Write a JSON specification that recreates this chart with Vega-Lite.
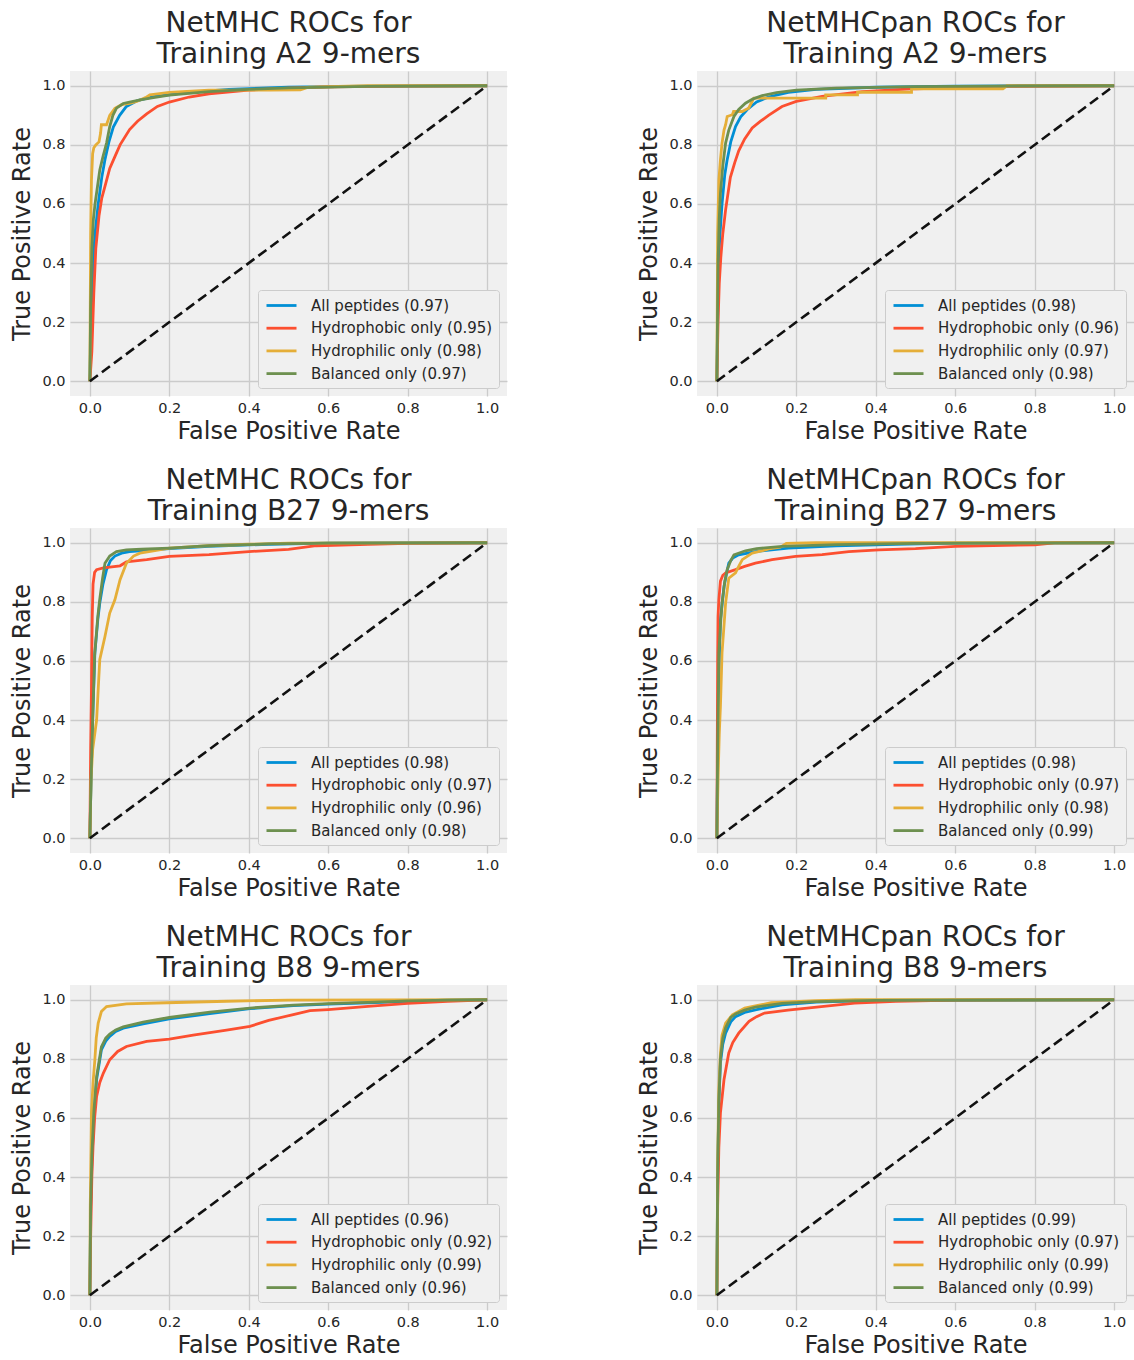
{
"$schema": "https://vega.github.io/schema/vega-lite/v6.json",
"background": "white",
"padding": {"left": 10, "top": 10, "right": 0, "bottom": 0},
"config": {
  "font": "DejaVu Sans",
  "view": {"fill": "#f0f0f0", "stroke": null},
  "axis": {"domain": false, "ticks": false, "gridColor": "#cbcbcb", "gridWidth": 1.3, "labelFontSize": 14.5, "labelColor": "#262626", "titleFontSize": 24, "titleFontWeight": "normal", "titleColor": "#262626", "labelPadding": 5},
  "axisX": {"titlePadding": 5},
  "axisY": {"titlePadding": 7},
  "title": {"fontSize": 28, "fontWeight": "normal", "color": "#262626", "lineHeight": 31, "offset": 2, "anchor": "middle"},
  "legend": {"orient": "bottom-right", "offset": 8, "fillColor": "#f0f0f0", "strokeColor": "#cccccc", "cornerRadius": 3, "padding": 6, "labelFontSize": 15, "labelColor": "#262626", "labelLimit": 300, "symbolType": "M-1.875,0H1.875", "symbolSize": 256, "symbolStrokeWidth": 2.8, "symbolOffset": 8, "labelOffset": 20, "rowPadding": 4.7}
},
"datasets": {
"diag": [{"x": 0, "y": 0}, {"x": 1, "y": 1}],
"roc": [
{"p":"a","s":"All peptides (0.97)","x":0,"y":0},{"p":"a","s":"All peptides (0.97)","x":0.003,"y":0.2},{"p":"a","s":"All peptides (0.97)","x":0.008,"y":0.4},{"p":"a","s":"All peptides (0.97)","x":0.013,"y":0.5},{"p":"a","s":"All peptides (0.97)","x":0.021,"y":0.6},{"p":"a","s":"All peptides (0.97)","x":0.03,"y":0.69},{"p":"a","s":"All peptides (0.97)","x":0.038,"y":0.75},{"p":"a","s":"All peptides (0.97)","x":0.048,"y":0.81},{"p":"a","s":"All peptides (0.97)","x":0.059,"y":0.86},{"p":"a","s":"All peptides (0.97)","x":0.075,"y":0.9},{"p":"a","s":"All peptides (0.97)","x":0.092,"y":0.93},{"p":"a","s":"All peptides (0.97)","x":0.12,"y":0.95},{"p":"a","s":"All peptides (0.97)","x":0.16,"y":0.963},{"p":"a","s":"All peptides (0.97)","x":0.25,"y":0.978},{"p":"a","s":"All peptides (0.97)","x":0.35,"y":0.988},{"p":"a","s":"All peptides (0.97)","x":0.5,"y":0.995},{"p":"a","s":"All peptides (0.97)","x":0.7,"y":0.999},{"p":"a","s":"All peptides (0.97)","x":1,"y":1},
{"p":"a","s":"Hydrophobic only (0.95)","x":0,"y":0},{"p":"a","s":"Hydrophobic only (0.95)","x":0.005,"y":0.1},{"p":"a","s":"Hydrophobic only (0.95)","x":0.01,"y":0.3},{"p":"a","s":"Hydrophobic only (0.95)","x":0.015,"y":0.45},{"p":"a","s":"Hydrophobic only (0.95)","x":0.023,"y":0.56},{"p":"a","s":"Hydrophobic only (0.95)","x":0.03,"y":0.62},{"p":"a","s":"Hydrophobic only (0.95)","x":0.04,"y":0.67},{"p":"a","s":"Hydrophobic only (0.95)","x":0.05,"y":0.72},{"p":"a","s":"Hydrophobic only (0.95)","x":0.063,"y":0.76},{"p":"a","s":"Hydrophobic only (0.95)","x":0.076,"y":0.8},{"p":"a","s":"Hydrophobic only (0.95)","x":0.1,"y":0.852},{"p":"a","s":"Hydrophobic only (0.95)","x":0.12,"y":0.88},{"p":"a","s":"Hydrophobic only (0.95)","x":0.143,"y":0.905},{"p":"a","s":"Hydrophobic only (0.95)","x":0.17,"y":0.93},{"p":"a","s":"Hydrophobic only (0.95)","x":0.2,"y":0.945},{"p":"a","s":"Hydrophobic only (0.95)","x":0.25,"y":0.962},{"p":"a","s":"Hydrophobic only (0.95)","x":0.3,"y":0.973},{"p":"a","s":"Hydrophobic only (0.95)","x":0.4,"y":0.985},{"p":"a","s":"Hydrophobic only (0.95)","x":0.5,"y":0.992},{"p":"a","s":"Hydrophobic only (0.95)","x":0.6,"y":0.996},{"p":"a","s":"Hydrophobic only (0.95)","x":0.8,"y":0.999},{"p":"a","s":"Hydrophobic only (0.95)","x":1,"y":1},
{"p":"a","s":"Hydrophilic only (0.98)","x":0,"y":0},{"p":"a","s":"Hydrophilic only (0.98)","x":0.002,"y":0.5},{"p":"a","s":"Hydrophilic only (0.98)","x":0.004,"y":0.68},{"p":"a","s":"Hydrophilic only (0.98)","x":0.007,"y":0.77},{"p":"a","s":"Hydrophilic only (0.98)","x":0.01,"y":0.79},{"p":"a","s":"Hydrophilic only (0.98)","x":0.015,"y":0.8},{"p":"a","s":"Hydrophilic only (0.98)","x":0.023,"y":0.81},{"p":"a","s":"Hydrophilic only (0.98)","x":0.027,"y":0.84},{"p":"a","s":"Hydrophilic only (0.98)","x":0.029,"y":0.868},{"p":"a","s":"Hydrophilic only (0.98)","x":0.042,"y":0.868},{"p":"a","s":"Hydrophilic only (0.98)","x":0.05,"y":0.9},{"p":"a","s":"Hydrophilic only (0.98)","x":0.063,"y":0.924},{"p":"a","s":"Hydrophilic only (0.98)","x":0.08,"y":0.936},{"p":"a","s":"Hydrophilic only (0.98)","x":0.1,"y":0.94},{"p":"a","s":"Hydrophilic only (0.98)","x":0.118,"y":0.947},{"p":"a","s":"Hydrophilic only (0.98)","x":0.14,"y":0.96},{"p":"a","s":"Hydrophilic only (0.98)","x":0.151,"y":0.969},{"p":"a","s":"Hydrophilic only (0.98)","x":0.2,"y":0.978},{"p":"a","s":"Hydrophilic only (0.98)","x":0.3,"y":0.985},{"p":"a","s":"Hydrophilic only (0.98)","x":0.45,"y":0.985},{"p":"a","s":"Hydrophilic only (0.98)","x":0.53,"y":0.986},{"p":"a","s":"Hydrophilic only (0.98)","x":0.55,"y":0.995},{"p":"a","s":"Hydrophilic only (0.98)","x":0.7,"y":1},{"p":"a","s":"Hydrophilic only (0.98)","x":1,"y":1},
{"p":"a","s":"Balanced only (0.97)","x":0,"y":0},{"p":"a","s":"Balanced only (0.97)","x":0.002,"y":0.25},{"p":"a","s":"Balanced only (0.97)","x":0.005,"y":0.45},{"p":"a","s":"Balanced only (0.97)","x":0.009,"y":0.55},{"p":"a","s":"Balanced only (0.97)","x":0.013,"y":0.6},{"p":"a","s":"Balanced only (0.97)","x":0.025,"y":0.715},{"p":"a","s":"Balanced only (0.97)","x":0.033,"y":0.76},{"p":"a","s":"Balanced only (0.97)","x":0.042,"y":0.806},{"p":"a","s":"Balanced only (0.97)","x":0.05,"y":0.862},{"p":"a","s":"Balanced only (0.97)","x":0.058,"y":0.9},{"p":"a","s":"Balanced only (0.97)","x":0.067,"y":0.924},{"p":"a","s":"Balanced only (0.97)","x":0.084,"y":0.94},{"p":"a","s":"Balanced only (0.97)","x":0.1,"y":0.945},{"p":"a","s":"Balanced only (0.97)","x":0.13,"y":0.953},{"p":"a","s":"Balanced only (0.97)","x":0.16,"y":0.96},{"p":"a","s":"Balanced only (0.97)","x":0.2,"y":0.968},{"p":"a","s":"Balanced only (0.97)","x":0.3,"y":0.98},{"p":"a","s":"Balanced only (0.97)","x":0.4,"y":0.988},{"p":"a","s":"Balanced only (0.97)","x":0.5,"y":0.993},{"p":"a","s":"Balanced only (0.97)","x":0.7,"y":0.998},{"p":"a","s":"Balanced only (0.97)","x":1,"y":1},

{"p":"b","s":"All peptides (0.98)","x":0,"y":0},{"p":"b","s":"All peptides (0.98)","x":0.004,"y":0.4},{"p":"b","s":"All peptides (0.98)","x":0.008,"y":0.5},{"p":"b","s":"All peptides (0.98)","x":0.013,"y":0.6},{"p":"b","s":"All peptides (0.98)","x":0.02,"y":0.7},{"p":"b","s":"All peptides (0.98)","x":0.026,"y":0.75},{"p":"b","s":"All peptides (0.98)","x":0.035,"y":0.81},{"p":"b","s":"All peptides (0.98)","x":0.047,"y":0.862},{"p":"b","s":"All peptides (0.98)","x":0.06,"y":0.895},{"p":"b","s":"All peptides (0.98)","x":0.076,"y":0.919},{"p":"b","s":"All peptides (0.98)","x":0.1,"y":0.945},{"p":"b","s":"All peptides (0.98)","x":0.13,"y":0.962},{"p":"b","s":"All peptides (0.98)","x":0.18,"y":0.978},{"p":"b","s":"All peptides (0.98)","x":0.25,"y":0.988},{"p":"b","s":"All peptides (0.98)","x":0.4,"y":0.995},{"p":"b","s":"All peptides (0.98)","x":0.6,"y":0.999},{"p":"b","s":"All peptides (0.98)","x":1,"y":1},
{"p":"b","s":"Hydrophobic only (0.96)","x":0,"y":0},{"p":"b","s":"Hydrophobic only (0.96)","x":0.003,"y":0.2},{"p":"b","s":"Hydrophobic only (0.96)","x":0.006,"y":0.33},{"p":"b","s":"Hydrophobic only (0.96)","x":0.01,"y":0.42},{"p":"b","s":"Hydrophobic only (0.96)","x":0.015,"y":0.5},{"p":"b","s":"Hydrophobic only (0.96)","x":0.022,"y":0.58},{"p":"b","s":"Hydrophobic only (0.96)","x":0.034,"y":0.69},{"p":"b","s":"Hydrophobic only (0.96)","x":0.045,"y":0.74},{"p":"b","s":"Hydrophobic only (0.96)","x":0.055,"y":0.78},{"p":"b","s":"Hydrophobic only (0.96)","x":0.07,"y":0.82},{"p":"b","s":"Hydrophobic only (0.96)","x":0.089,"y":0.857},{"p":"b","s":"Hydrophobic only (0.96)","x":0.11,"y":0.88},{"p":"b","s":"Hydrophobic only (0.96)","x":0.13,"y":0.9},{"p":"b","s":"Hydrophobic only (0.96)","x":0.164,"y":0.93},{"p":"b","s":"Hydrophobic only (0.96)","x":0.2,"y":0.947},{"p":"b","s":"Hydrophobic only (0.96)","x":0.265,"y":0.964},{"p":"b","s":"Hydrophobic only (0.96)","x":0.366,"y":0.98},{"p":"b","s":"Hydrophobic only (0.96)","x":0.5,"y":0.99},{"p":"b","s":"Hydrophobic only (0.96)","x":0.7,"y":0.998},{"p":"b","s":"Hydrophobic only (0.96)","x":1,"y":1},
{"p":"b","s":"Hydrophilic only (0.97)","x":0,"y":0},{"p":"b","s":"Hydrophilic only (0.97)","x":0.002,"y":0.5},{"p":"b","s":"Hydrophilic only (0.97)","x":0.005,"y":0.68},{"p":"b","s":"Hydrophilic only (0.97)","x":0.009,"y":0.75},{"p":"b","s":"Hydrophilic only (0.97)","x":0.013,"y":0.806},{"p":"b","s":"Hydrophilic only (0.97)","x":0.018,"y":0.85},{"p":"b","s":"Hydrophilic only (0.97)","x":0.022,"y":0.868},{"p":"b","s":"Hydrophilic only (0.97)","x":0.026,"y":0.896},{"p":"b","s":"Hydrophilic only (0.97)","x":0.039,"y":0.902},{"p":"b","s":"Hydrophilic only (0.97)","x":0.042,"y":0.913},{"p":"b","s":"Hydrophilic only (0.97)","x":0.064,"y":0.913},{"p":"b","s":"Hydrophilic only (0.97)","x":0.072,"y":0.919},{"p":"b","s":"Hydrophilic only (0.97)","x":0.08,"y":0.924},{"p":"b","s":"Hydrophilic only (0.97)","x":0.086,"y":0.94},{"p":"b","s":"Hydrophilic only (0.97)","x":0.093,"y":0.958},{"p":"b","s":"Hydrophilic only (0.97)","x":0.274,"y":0.958},{"p":"b","s":"Hydrophilic only (0.97)","x":0.274,"y":0.969},{"p":"b","s":"Hydrophilic only (0.97)","x":0.354,"y":0.969},{"p":"b","s":"Hydrophilic only (0.97)","x":0.354,"y":0.978},{"p":"b","s":"Hydrophilic only (0.97)","x":0.49,"y":0.978},{"p":"b","s":"Hydrophilic only (0.97)","x":0.49,"y":0.99},{"p":"b","s":"Hydrophilic only (0.97)","x":0.72,"y":0.99},{"p":"b","s":"Hydrophilic only (0.97)","x":0.73,"y":1},{"p":"b","s":"Hydrophilic only (0.97)","x":1,"y":1},
{"p":"b","s":"Balanced only (0.98)","x":0,"y":0},{"p":"b","s":"Balanced only (0.98)","x":0.003,"y":0.4},{"p":"b","s":"Balanced only (0.98)","x":0.006,"y":0.55},{"p":"b","s":"Balanced only (0.98)","x":0.009,"y":0.636},{"p":"b","s":"Balanced only (0.98)","x":0.015,"y":0.73},{"p":"b","s":"Balanced only (0.98)","x":0.022,"y":0.806},{"p":"b","s":"Balanced only (0.98)","x":0.03,"y":0.85},{"p":"b","s":"Balanced only (0.98)","x":0.043,"y":0.896},{"p":"b","s":"Balanced only (0.98)","x":0.055,"y":0.92},{"p":"b","s":"Balanced only (0.98)","x":0.072,"y":0.941},{"p":"b","s":"Balanced only (0.98)","x":0.09,"y":0.955},{"p":"b","s":"Balanced only (0.98)","x":0.114,"y":0.967},{"p":"b","s":"Balanced only (0.98)","x":0.15,"y":0.977},{"p":"b","s":"Balanced only (0.98)","x":0.2,"y":0.985},{"p":"b","s":"Balanced only (0.98)","x":0.3,"y":0.992},{"p":"b","s":"Balanced only (0.98)","x":0.5,"y":0.997},{"p":"b","s":"Balanced only (0.98)","x":0.7,"y":0.999},{"p":"b","s":"Balanced only (0.98)","x":1,"y":1},

{"p":"c","s":"All peptides (0.98)","x":0,"y":0},{"p":"c","s":"All peptides (0.98)","x":0.003,"y":0.2},{"p":"c","s":"All peptides (0.98)","x":0.007,"y":0.4},{"p":"c","s":"All peptides (0.98)","x":0.0126,"y":0.627},{"p":"c","s":"All peptides (0.98)","x":0.02,"y":0.74},{"p":"c","s":"All peptides (0.98)","x":0.025,"y":0.796},{"p":"c","s":"All peptides (0.98)","x":0.033,"y":0.86},{"p":"c","s":"All peptides (0.98)","x":0.042,"y":0.909},{"p":"c","s":"All peptides (0.98)","x":0.052,"y":0.94},{"p":"c","s":"All peptides (0.98)","x":0.063,"y":0.955},{"p":"c","s":"All peptides (0.98)","x":0.08,"y":0.965},{"p":"c","s":"All peptides (0.98)","x":0.1,"y":0.97},{"p":"c","s":"All peptides (0.98)","x":0.126,"y":0.973},{"p":"c","s":"All peptides (0.98)","x":0.2,"y":0.98},{"p":"c","s":"All peptides (0.98)","x":0.3,"y":0.988},{"p":"c","s":"All peptides (0.98)","x":0.45,"y":0.995},{"p":"c","s":"All peptides (0.98)","x":0.6,"y":0.999},{"p":"c","s":"All peptides (0.98)","x":1,"y":1},
{"p":"c","s":"Hydrophobic only (0.97)","x":0,"y":0},{"p":"c","s":"Hydrophobic only (0.97)","x":0.002,"y":0.3},{"p":"c","s":"Hydrophobic only (0.97)","x":0.004,"y":0.5},{"p":"c","s":"Hydrophobic only (0.97)","x":0.006,"y":0.75},{"p":"c","s":"Hydrophobic only (0.97)","x":0.008,"y":0.86},{"p":"c","s":"Hydrophobic only (0.97)","x":0.012,"y":0.9},{"p":"c","s":"Hydrophobic only (0.97)","x":0.017,"y":0.909},{"p":"c","s":"Hydrophobic only (0.97)","x":0.034,"y":0.915},{"p":"c","s":"Hydrophobic only (0.97)","x":0.076,"y":0.922},{"p":"c","s":"Hydrophobic only (0.97)","x":0.092,"y":0.935},{"p":"c","s":"Hydrophobic only (0.97)","x":0.143,"y":0.943},{"p":"c","s":"Hydrophobic only (0.97)","x":0.2,"y":0.954},{"p":"c","s":"Hydrophobic only (0.97)","x":0.3,"y":0.96},{"p":"c","s":"Hydrophobic only (0.97)","x":0.4,"y":0.97},{"p":"c","s":"Hydrophobic only (0.97)","x":0.5,"y":0.978},{"p":"c","s":"Hydrophobic only (0.97)","x":0.57,"y":0.99},{"p":"c","s":"Hydrophobic only (0.97)","x":0.7,"y":0.995},{"p":"c","s":"Hydrophobic only (0.97)","x":0.8,"y":0.998},{"p":"c","s":"Hydrophobic only (0.97)","x":1,"y":1},
{"p":"c","s":"Hydrophilic only (0.96)","x":0,"y":0},{"p":"c","s":"Hydrophilic only (0.96)","x":0.003,"y":0.2},{"p":"c","s":"Hydrophilic only (0.96)","x":0.007,"y":0.3},{"p":"c","s":"Hydrophilic only (0.96)","x":0.017,"y":0.4},{"p":"c","s":"Hydrophilic only (0.96)","x":0.022,"y":0.53},{"p":"c","s":"Hydrophilic only (0.96)","x":0.025,"y":0.605},{"p":"c","s":"Hydrophilic only (0.96)","x":0.038,"y":0.683},{"p":"c","s":"Hydrophilic only (0.96)","x":0.05,"y":0.762},{"p":"c","s":"Hydrophilic only (0.96)","x":0.063,"y":0.807},{"p":"c","s":"Hydrophilic only (0.96)","x":0.076,"y":0.875},{"p":"c","s":"Hydrophilic only (0.96)","x":0.092,"y":0.931},{"p":"c","s":"Hydrophilic only (0.96)","x":0.11,"y":0.955},{"p":"c","s":"Hydrophilic only (0.96)","x":0.126,"y":0.965},{"p":"c","s":"Hydrophilic only (0.96)","x":0.16,"y":0.973},{"p":"c","s":"Hydrophilic only (0.96)","x":0.2,"y":0.982},{"p":"c","s":"Hydrophilic only (0.96)","x":0.3,"y":0.99},{"p":"c","s":"Hydrophilic only (0.96)","x":0.4,"y":0.995},{"p":"c","s":"Hydrophilic only (0.96)","x":0.5,"y":0.999},{"p":"c","s":"Hydrophilic only (0.96)","x":1,"y":1},
{"p":"c","s":"Balanced only (0.98)","x":0,"y":0},{"p":"c","s":"Balanced only (0.98)","x":0.003,"y":0.2},{"p":"c","s":"Balanced only (0.98)","x":0.007,"y":0.4},{"p":"c","s":"Balanced only (0.98)","x":0.012,"y":0.62},{"p":"c","s":"Balanced only (0.98)","x":0.02,"y":0.75},{"p":"c","s":"Balanced only (0.98)","x":0.025,"y":0.81},{"p":"c","s":"Balanced only (0.98)","x":0.032,"y":0.88},{"p":"c","s":"Balanced only (0.98)","x":0.038,"y":0.931},{"p":"c","s":"Balanced only (0.98)","x":0.05,"y":0.955},{"p":"c","s":"Balanced only (0.98)","x":0.067,"y":0.97},{"p":"c","s":"Balanced only (0.98)","x":0.092,"y":0.976},{"p":"c","s":"Balanced only (0.98)","x":0.13,"y":0.978},{"p":"c","s":"Balanced only (0.98)","x":0.2,"y":0.982},{"p":"c","s":"Balanced only (0.98)","x":0.3,"y":0.99},{"p":"c","s":"Balanced only (0.98)","x":0.45,"y":0.996},{"p":"c","s":"Balanced only (0.98)","x":0.6,"y":0.999},{"p":"c","s":"Balanced only (0.98)","x":1,"y":1},

{"p":"d","s":"All peptides (0.98)","x":0,"y":0},{"p":"d","s":"All peptides (0.98)","x":0.002,"y":0.3},{"p":"d","s":"All peptides (0.98)","x":0.005,"y":0.55},{"p":"d","s":"All peptides (0.98)","x":0.009,"y":0.74},{"p":"d","s":"All peptides (0.98)","x":0.018,"y":0.852},{"p":"d","s":"All peptides (0.98)","x":0.025,"y":0.9},{"p":"d","s":"All peptides (0.98)","x":0.03,"y":0.931},{"p":"d","s":"All peptides (0.98)","x":0.04,"y":0.948},{"p":"d","s":"All peptides (0.98)","x":0.055,"y":0.959},{"p":"d","s":"All peptides (0.98)","x":0.097,"y":0.97},{"p":"d","s":"All peptides (0.98)","x":0.18,"y":0.982},{"p":"d","s":"All peptides (0.98)","x":0.3,"y":0.99},{"p":"d","s":"All peptides (0.98)","x":0.45,"y":0.995},{"p":"d","s":"All peptides (0.98)","x":0.6,"y":0.999},{"p":"d","s":"All peptides (0.98)","x":1,"y":1},
{"p":"d","s":"Hydrophobic only (0.97)","x":0,"y":0},{"p":"d","s":"Hydrophobic only (0.97)","x":0.001,"y":0.3},{"p":"d","s":"Hydrophobic only (0.97)","x":0.002,"y":0.6},{"p":"d","s":"Hydrophobic only (0.97)","x":0.003,"y":0.75},{"p":"d","s":"Hydrophobic only (0.97)","x":0.005,"y":0.807},{"p":"d","s":"Hydrophobic only (0.97)","x":0.009,"y":0.87},{"p":"d","s":"Hydrophobic only (0.97)","x":0.015,"y":0.89},{"p":"d","s":"Hydrophobic only (0.97)","x":0.022,"y":0.898},{"p":"d","s":"Hydrophobic only (0.97)","x":0.047,"y":0.909},{"p":"d","s":"Hydrophobic only (0.97)","x":0.07,"y":0.92},{"p":"d","s":"Hydrophobic only (0.97)","x":0.097,"y":0.931},{"p":"d","s":"Hydrophobic only (0.97)","x":0.139,"y":0.943},{"p":"d","s":"Hydrophobic only (0.97)","x":0.198,"y":0.954},{"p":"d","s":"Hydrophobic only (0.97)","x":0.265,"y":0.96},{"p":"d","s":"Hydrophobic only (0.97)","x":0.332,"y":0.97},{"p":"d","s":"Hydrophobic only (0.97)","x":0.408,"y":0.976},{"p":"d","s":"Hydrophobic only (0.97)","x":0.5,"y":0.98},{"p":"d","s":"Hydrophobic only (0.97)","x":0.6,"y":0.988},{"p":"d","s":"Hydrophobic only (0.97)","x":0.8,"y":0.993},{"p":"d","s":"Hydrophobic only (0.97)","x":0.85,"y":1},{"p":"d","s":"Hydrophobic only (0.97)","x":1,"y":1},
{"p":"d","s":"Hydrophilic only (0.98)","x":0,"y":0},{"p":"d","s":"Hydrophilic only (0.98)","x":0.003,"y":0.2},{"p":"d","s":"Hydrophilic only (0.98)","x":0.006,"y":0.35},{"p":"d","s":"Hydrophilic only (0.98)","x":0.009,"y":0.447},{"p":"d","s":"Hydrophilic only (0.98)","x":0.013,"y":0.627},{"p":"d","s":"Hydrophilic only (0.98)","x":0.018,"y":0.72},{"p":"d","s":"Hydrophilic only (0.98)","x":0.022,"y":0.796},{"p":"d","s":"Hydrophilic only (0.98)","x":0.03,"y":0.88},{"p":"d","s":"Hydrophilic only (0.98)","x":0.047,"y":0.898},{"p":"d","s":"Hydrophilic only (0.98)","x":0.055,"y":0.92},{"p":"d","s":"Hydrophilic only (0.98)","x":0.064,"y":0.943},{"p":"d","s":"Hydrophilic only (0.98)","x":0.089,"y":0.965},{"p":"d","s":"Hydrophilic only (0.98)","x":0.131,"y":0.979},{"p":"d","s":"Hydrophilic only (0.98)","x":0.16,"y":0.985},{"p":"d","s":"Hydrophilic only (0.98)","x":0.175,"y":0.998},{"p":"d","s":"Hydrophilic only (0.98)","x":0.25,"y":1},{"p":"d","s":"Hydrophilic only (0.98)","x":1,"y":1},
{"p":"d","s":"Balanced only (0.99)","x":0,"y":0},{"p":"d","s":"Balanced only (0.99)","x":0.002,"y":0.3},{"p":"d","s":"Balanced only (0.99)","x":0.005,"y":0.627},{"p":"d","s":"Balanced only (0.99)","x":0.009,"y":0.72},{"p":"d","s":"Balanced only (0.99)","x":0.013,"y":0.796},{"p":"d","s":"Balanced only (0.99)","x":0.02,"y":0.87},{"p":"d","s":"Balanced only (0.99)","x":0.026,"y":0.909},{"p":"d","s":"Balanced only (0.99)","x":0.035,"y":0.94},{"p":"d","s":"Balanced only (0.99)","x":0.043,"y":0.959},{"p":"d","s":"Balanced only (0.99)","x":0.072,"y":0.973},{"p":"d","s":"Balanced only (0.99)","x":0.1,"y":0.98},{"p":"d","s":"Balanced only (0.99)","x":0.164,"y":0.988},{"p":"d","s":"Balanced only (0.99)","x":0.3,"y":0.994},{"p":"d","s":"Balanced only (0.99)","x":0.5,"y":0.998},{"p":"d","s":"Balanced only (0.99)","x":1,"y":1},

{"p":"e","s":"All peptides (0.96)","x":0,"y":0},{"p":"e","s":"All peptides (0.96)","x":0.002,"y":0.3},{"p":"e","s":"All peptides (0.96)","x":0.005,"y":0.45},{"p":"e","s":"All peptides (0.96)","x":0.01,"y":0.6},{"p":"e","s":"All peptides (0.96)","x":0.017,"y":0.73},{"p":"e","s":"All peptides (0.96)","x":0.029,"y":0.83},{"p":"e","s":"All peptides (0.96)","x":0.04,"y":0.86},{"p":"e","s":"All peptides (0.96)","x":0.05,"y":0.876},{"p":"e","s":"All peptides (0.96)","x":0.065,"y":0.893},{"p":"e","s":"All peptides (0.96)","x":0.084,"y":0.904},{"p":"e","s":"All peptides (0.96)","x":0.134,"y":0.918},{"p":"e","s":"All peptides (0.96)","x":0.2,"y":0.935},{"p":"e","s":"All peptides (0.96)","x":0.302,"y":0.953},{"p":"e","s":"All peptides (0.96)","x":0.403,"y":0.97},{"p":"e","s":"All peptides (0.96)","x":0.512,"y":0.98},{"p":"e","s":"All peptides (0.96)","x":0.6,"y":0.985},{"p":"e","s":"All peptides (0.96)","x":0.7,"y":0.99},{"p":"e","s":"All peptides (0.96)","x":0.8,"y":0.995},{"p":"e","s":"All peptides (0.96)","x":0.9,"y":0.999},{"p":"e","s":"All peptides (0.96)","x":1,"y":1},
{"p":"e","s":"Hydrophobic only (0.92)","x":0,"y":0},{"p":"e","s":"Hydrophobic only (0.92)","x":0.002,"y":0.2},{"p":"e","s":"Hydrophobic only (0.92)","x":0.005,"y":0.4},{"p":"e","s":"Hydrophobic only (0.92)","x":0.008,"y":0.504},{"p":"e","s":"Hydrophobic only (0.92)","x":0.012,"y":0.6},{"p":"e","s":"Hydrophobic only (0.92)","x":0.017,"y":0.673},{"p":"e","s":"Hydrophobic only (0.92)","x":0.025,"y":0.72},{"p":"e","s":"Hydrophobic only (0.92)","x":0.034,"y":0.752},{"p":"e","s":"Hydrophobic only (0.92)","x":0.05,"y":0.797},{"p":"e","s":"Hydrophobic only (0.92)","x":0.07,"y":0.825},{"p":"e","s":"Hydrophobic only (0.92)","x":0.092,"y":0.842},{"p":"e","s":"Hydrophobic only (0.92)","x":0.143,"y":0.859},{"p":"e","s":"Hydrophobic only (0.92)","x":0.2,"y":0.867},{"p":"e","s":"Hydrophobic only (0.92)","x":0.26,"y":0.88},{"p":"e","s":"Hydrophobic only (0.92)","x":0.344,"y":0.897},{"p":"e","s":"Hydrophobic only (0.92)","x":0.403,"y":0.91},{"p":"e","s":"Hydrophobic only (0.92)","x":0.45,"y":0.93},{"p":"e","s":"Hydrophobic only (0.92)","x":0.512,"y":0.95},{"p":"e","s":"Hydrophobic only (0.92)","x":0.554,"y":0.963},{"p":"e","s":"Hydrophobic only (0.92)","x":0.6,"y":0.967},{"p":"e","s":"Hydrophobic only (0.92)","x":0.7,"y":0.978},{"p":"e","s":"Hydrophobic only (0.92)","x":0.8,"y":0.988},{"p":"e","s":"Hydrophobic only (0.92)","x":0.9,"y":0.995},{"p":"e","s":"Hydrophobic only (0.92)","x":1,"y":1},
{"p":"e","s":"Hydrophilic only (0.99)","x":0,"y":0},{"p":"e","s":"Hydrophilic only (0.99)","x":0.001,"y":0.3},{"p":"e","s":"Hydrophilic only (0.99)","x":0.003,"y":0.5},{"p":"e","s":"Hydrophilic only (0.99)","x":0.004,"y":0.617},{"p":"e","s":"Hydrophilic only (0.99)","x":0.008,"y":0.72},{"p":"e","s":"Hydrophilic only (0.99)","x":0.0126,"y":0.797},{"p":"e","s":"Hydrophilic only (0.99)","x":0.016,"y":0.87},{"p":"e","s":"Hydrophilic only (0.99)","x":0.021,"y":0.921},{"p":"e","s":"Hydrophilic only (0.99)","x":0.029,"y":0.96},{"p":"e","s":"Hydrophilic only (0.99)","x":0.042,"y":0.977},{"p":"e","s":"Hydrophilic only (0.99)","x":0.092,"y":0.986},{"p":"e","s":"Hydrophilic only (0.99)","x":0.193,"y":0.99},{"p":"e","s":"Hydrophilic only (0.99)","x":0.344,"y":0.995},{"p":"e","s":"Hydrophilic only (0.99)","x":0.5,"y":0.999},{"p":"e","s":"Hydrophilic only (0.99)","x":1,"y":1},
{"p":"e","s":"Balanced only (0.96)","x":0,"y":0},{"p":"e","s":"Balanced only (0.96)","x":0.002,"y":0.3},{"p":"e","s":"Balanced only (0.96)","x":0.005,"y":0.47},{"p":"e","s":"Balanced only (0.96)","x":0.01,"y":0.62},{"p":"e","s":"Balanced only (0.96)","x":0.017,"y":0.74},{"p":"e","s":"Balanced only (0.96)","x":0.029,"y":0.84},{"p":"e","s":"Balanced only (0.96)","x":0.04,"y":0.87},{"p":"e","s":"Balanced only (0.96)","x":0.05,"y":0.884},{"p":"e","s":"Balanced only (0.96)","x":0.065,"y":0.898},{"p":"e","s":"Balanced only (0.96)","x":0.084,"y":0.908},{"p":"e","s":"Balanced only (0.96)","x":0.134,"y":0.924},{"p":"e","s":"Balanced only (0.96)","x":0.2,"y":0.94},{"p":"e","s":"Balanced only (0.96)","x":0.302,"y":0.958},{"p":"e","s":"Balanced only (0.96)","x":0.403,"y":0.972},{"p":"e","s":"Balanced only (0.96)","x":0.512,"y":0.982},{"p":"e","s":"Balanced only (0.96)","x":0.6,"y":0.987},{"p":"e","s":"Balanced only (0.96)","x":0.7,"y":0.991},{"p":"e","s":"Balanced only (0.96)","x":0.8,"y":0.996},{"p":"e","s":"Balanced only (0.96)","x":0.9,"y":0.999},{"p":"e","s":"Balanced only (0.96)","x":1,"y":1},

{"p":"f","s":"All peptides (0.99)","x":0,"y":0},{"p":"f","s":"All peptides (0.99)","x":0.002,"y":0.4},{"p":"f","s":"All peptides (0.99)","x":0.005,"y":0.65},{"p":"f","s":"All peptides (0.99)","x":0.009,"y":0.786},{"p":"f","s":"All peptides (0.99)","x":0.015,"y":0.85},{"p":"f","s":"All peptides (0.99)","x":0.022,"y":0.887},{"p":"f","s":"All peptides (0.99)","x":0.035,"y":0.925},{"p":"f","s":"All peptides (0.99)","x":0.047,"y":0.943},{"p":"f","s":"All peptides (0.99)","x":0.07,"y":0.957},{"p":"f","s":"All peptides (0.99)","x":0.097,"y":0.966},{"p":"f","s":"All peptides (0.99)","x":0.164,"y":0.983},{"p":"f","s":"All peptides (0.99)","x":0.25,"y":0.992},{"p":"f","s":"All peptides (0.99)","x":0.4,"y":0.998},{"p":"f","s":"All peptides (0.99)","x":1,"y":1},
{"p":"f","s":"Hydrophobic only (0.97)","x":0,"y":0},{"p":"f","s":"Hydrophobic only (0.97)","x":0.002,"y":0.3},{"p":"f","s":"Hydrophobic only (0.97)","x":0.005,"y":0.5},{"p":"f","s":"Hydrophobic only (0.97)","x":0.009,"y":0.617},{"p":"f","s":"Hydrophobic only (0.97)","x":0.018,"y":0.73},{"p":"f","s":"Hydrophobic only (0.97)","x":0.03,"y":0.82},{"p":"f","s":"Hydrophobic only (0.97)","x":0.04,"y":0.855},{"p":"f","s":"Hydrophobic only (0.97)","x":0.055,"y":0.887},{"p":"f","s":"Hydrophobic only (0.97)","x":0.081,"y":0.927},{"p":"f","s":"Hydrophobic only (0.97)","x":0.1,"y":0.943},{"p":"f","s":"Hydrophobic only (0.97)","x":0.12,"y":0.955},{"p":"f","s":"Hydrophobic only (0.97)","x":0.179,"y":0.965},{"p":"f","s":"Hydrophobic only (0.97)","x":0.263,"y":0.977},{"p":"f","s":"Hydrophobic only (0.97)","x":0.347,"y":0.989},{"p":"f","s":"Hydrophobic only (0.97)","x":0.45,"y":0.995},{"p":"f","s":"Hydrophobic only (0.97)","x":0.6,"y":0.999},{"p":"f","s":"Hydrophobic only (0.97)","x":1,"y":1},
{"p":"f","s":"Hydrophilic only (0.99)","x":0,"y":0},{"p":"f","s":"Hydrophilic only (0.99)","x":0.002,"y":0.45},{"p":"f","s":"Hydrophilic only (0.99)","x":0.005,"y":0.7},{"p":"f","s":"Hydrophilic only (0.99)","x":0.009,"y":0.82},{"p":"f","s":"Hydrophilic only (0.99)","x":0.013,"y":0.88},{"p":"f","s":"Hydrophilic only (0.99)","x":0.022,"y":0.921},{"p":"f","s":"Hydrophilic only (0.99)","x":0.039,"y":0.949},{"p":"f","s":"Hydrophilic only (0.99)","x":0.07,"y":0.972},{"p":"f","s":"Hydrophilic only (0.99)","x":0.1,"y":0.98},{"p":"f","s":"Hydrophilic only (0.99)","x":0.137,"y":0.99},{"p":"f","s":"Hydrophilic only (0.99)","x":0.25,"y":0.997},{"p":"f","s":"Hydrophilic only (0.99)","x":0.35,"y":1},{"p":"f","s":"Hydrophilic only (0.99)","x":1,"y":1},
{"p":"f","s":"Balanced only (0.99)","x":0,"y":0},{"p":"f","s":"Balanced only (0.99)","x":0.002,"y":0.4},{"p":"f","s":"Balanced only (0.99)","x":0.005,"y":0.66},{"p":"f","s":"Balanced only (0.99)","x":0.009,"y":0.8},{"p":"f","s":"Balanced only (0.99)","x":0.015,"y":0.87},{"p":"f","s":"Balanced only (0.99)","x":0.022,"y":0.905},{"p":"f","s":"Balanced only (0.99)","x":0.035,"y":0.94},{"p":"f","s":"Balanced only (0.99)","x":0.047,"y":0.952},{"p":"f","s":"Balanced only (0.99)","x":0.07,"y":0.965},{"p":"f","s":"Balanced only (0.99)","x":0.097,"y":0.975},{"p":"f","s":"Balanced only (0.99)","x":0.164,"y":0.988},{"p":"f","s":"Balanced only (0.99)","x":0.25,"y":0.994},{"p":"f","s":"Balanced only (0.99)","x":0.4,"y":0.998},{"p":"f","s":"Balanced only (0.99)","x":1,"y":1}
]
},
"spacing": 23,
"resolve": {"scale": {"color": "independent"}},
"vconcat": [
{"hconcat": [
 {"width": 437, "height": 325, "title": {"text": ["NetMHC ROCs for", "Training A2 9-mers"]},
  "layer": [
   {"data": {"name": "roc"}, "transform": [{"filter": "datum.p == 'a'"}], "mark": {"type": "line", "strokeWidth": 2.8},
    "encoding": {
     "x": {"field": "x", "type": "quantitative", "title": "False Positive Rate", "scale": {"domain": [-0.05, 1.05], "nice": false, "zero": false}, "axis": {"values": [0, 0.2, 0.4, 0.6, 0.8, 1], "format": ".1f"}},
     "y": {"field": "y", "type": "quantitative", "title": "True Positive Rate", "scale": {"domain": [-0.05, 1.05], "nice": false, "zero": false}, "axis": {"values": [0, 0.2, 0.4, 0.6, 0.8, 1], "format": ".1f"}},
     "color": {"field": "s", "type": "nominal", "scale": {"domain": ["All peptides (0.97)", "Hydrophobic only (0.95)", "Hydrophilic only (0.98)", "Balanced only (0.97)"], "range": ["#008fd5", "#fc4f30", "#e5ae38", "#6d904f"]}, "legend": {"title": null}},
     "order": [{"field": "x", "type": "quantitative"}, {"field": "y", "type": "quantitative"}]}},
   {"data": {"name": "diag"}, "mark": {"type": "line", "color": "#111111", "strokeWidth": 2.6, "strokeDash": [10, 5]},
    "encoding": {"x": {"field": "x", "type": "quantitative", "title": "False Positive Rate"}, "y": {"field": "y", "type": "quantitative", "title": "True Positive Rate"}}}
  ]},
 {"width": 437, "height": 325, "title": {"text": ["NetMHCpan ROCs for", "Training A2 9-mers"]},
  "layer": [
   {"data": {"name": "roc"}, "transform": [{"filter": "datum.p == 'b'"}], "mark": {"type": "line", "strokeWidth": 2.8},
    "encoding": {
     "x": {"field": "x", "type": "quantitative", "title": "False Positive Rate", "scale": {"domain": [-0.05, 1.05], "nice": false, "zero": false}, "axis": {"values": [0, 0.2, 0.4, 0.6, 0.8, 1], "format": ".1f"}},
     "y": {"field": "y", "type": "quantitative", "title": "True Positive Rate", "scale": {"domain": [-0.05, 1.05], "nice": false, "zero": false}, "axis": {"values": [0, 0.2, 0.4, 0.6, 0.8, 1], "format": ".1f"}},
     "color": {"field": "s", "type": "nominal", "scale": {"domain": ["All peptides (0.98)", "Hydrophobic only (0.96)", "Hydrophilic only (0.97)", "Balanced only (0.98)"], "range": ["#008fd5", "#fc4f30", "#e5ae38", "#6d904f"]}, "legend": {"title": null}},
     "order": [{"field": "x", "type": "quantitative"}, {"field": "y", "type": "quantitative"}]}},
   {"data": {"name": "diag"}, "mark": {"type": "line", "color": "#111111", "strokeWidth": 2.6, "strokeDash": [10, 5]},
    "encoding": {"x": {"field": "x", "type": "quantitative", "title": "False Positive Rate"}, "y": {"field": "y", "type": "quantitative", "title": "True Positive Rate"}}}
  ]}
 ], "spacing": 130, "resolve": {"scale": {"color": "independent"}}},
{"hconcat": [
 {"width": 437, "height": 325, "title": {"text": ["NetMHC ROCs for", "Training B27 9-mers"]},
  "layer": [
   {"data": {"name": "roc"}, "transform": [{"filter": "datum.p == 'c'"}], "mark": {"type": "line", "strokeWidth": 2.8},
    "encoding": {
     "x": {"field": "x", "type": "quantitative", "title": "False Positive Rate", "scale": {"domain": [-0.05, 1.05], "nice": false, "zero": false}, "axis": {"values": [0, 0.2, 0.4, 0.6, 0.8, 1], "format": ".1f"}},
     "y": {"field": "y", "type": "quantitative", "title": "True Positive Rate", "scale": {"domain": [-0.05, 1.05], "nice": false, "zero": false}, "axis": {"values": [0, 0.2, 0.4, 0.6, 0.8, 1], "format": ".1f"}},
     "color": {"field": "s", "type": "nominal", "scale": {"domain": ["All peptides (0.98)", "Hydrophobic only (0.97)", "Hydrophilic only (0.96)", "Balanced only (0.98)"], "range": ["#008fd5", "#fc4f30", "#e5ae38", "#6d904f"]}, "legend": {"title": null}},
     "order": [{"field": "x", "type": "quantitative"}, {"field": "y", "type": "quantitative"}]}},
   {"data": {"name": "diag"}, "mark": {"type": "line", "color": "#111111", "strokeWidth": 2.6, "strokeDash": [10, 5]},
    "encoding": {"x": {"field": "x", "type": "quantitative", "title": "False Positive Rate"}, "y": {"field": "y", "type": "quantitative", "title": "True Positive Rate"}}}
  ]},
 {"width": 437, "height": 325, "title": {"text": ["NetMHCpan ROCs for", "Training B27 9-mers"]},
  "layer": [
   {"data": {"name": "roc"}, "transform": [{"filter": "datum.p == 'd'"}], "mark": {"type": "line", "strokeWidth": 2.8},
    "encoding": {
     "x": {"field": "x", "type": "quantitative", "title": "False Positive Rate", "scale": {"domain": [-0.05, 1.05], "nice": false, "zero": false}, "axis": {"values": [0, 0.2, 0.4, 0.6, 0.8, 1], "format": ".1f"}},
     "y": {"field": "y", "type": "quantitative", "title": "True Positive Rate", "scale": {"domain": [-0.05, 1.05], "nice": false, "zero": false}, "axis": {"values": [0, 0.2, 0.4, 0.6, 0.8, 1], "format": ".1f"}},
     "color": {"field": "s", "type": "nominal", "scale": {"domain": ["All peptides (0.98)", "Hydrophobic only (0.97)", "Hydrophilic only (0.98)", "Balanced only (0.99)"], "range": ["#008fd5", "#fc4f30", "#e5ae38", "#6d904f"]}, "legend": {"title": null}},
     "order": [{"field": "x", "type": "quantitative"}, {"field": "y", "type": "quantitative"}]}},
   {"data": {"name": "diag"}, "mark": {"type": "line", "color": "#111111", "strokeWidth": 2.6, "strokeDash": [10, 5]},
    "encoding": {"x": {"field": "x", "type": "quantitative", "title": "False Positive Rate"}, "y": {"field": "y", "type": "quantitative", "title": "True Positive Rate"}}}
  ]}
 ], "spacing": 130, "resolve": {"scale": {"color": "independent"}}},
{"hconcat": [
 {"width": 437, "height": 325, "title": {"text": ["NetMHC ROCs for", "Training B8 9-mers"]},
  "layer": [
   {"data": {"name": "roc"}, "transform": [{"filter": "datum.p == 'e'"}], "mark": {"type": "line", "strokeWidth": 2.8},
    "encoding": {
     "x": {"field": "x", "type": "quantitative", "title": "False Positive Rate", "scale": {"domain": [-0.05, 1.05], "nice": false, "zero": false}, "axis": {"values": [0, 0.2, 0.4, 0.6, 0.8, 1], "format": ".1f"}},
     "y": {"field": "y", "type": "quantitative", "title": "True Positive Rate", "scale": {"domain": [-0.05, 1.05], "nice": false, "zero": false}, "axis": {"values": [0, 0.2, 0.4, 0.6, 0.8, 1], "format": ".1f"}},
     "color": {"field": "s", "type": "nominal", "scale": {"domain": ["All peptides (0.96)", "Hydrophobic only (0.92)", "Hydrophilic only (0.99)", "Balanced only (0.96)"], "range": ["#008fd5", "#fc4f30", "#e5ae38", "#6d904f"]}, "legend": {"title": null}},
     "order": [{"field": "x", "type": "quantitative"}, {"field": "y", "type": "quantitative"}]}},
   {"data": {"name": "diag"}, "mark": {"type": "line", "color": "#111111", "strokeWidth": 2.6, "strokeDash": [10, 5]},
    "encoding": {"x": {"field": "x", "type": "quantitative", "title": "False Positive Rate"}, "y": {"field": "y", "type": "quantitative", "title": "True Positive Rate"}}}
  ]},
 {"width": 437, "height": 325, "title": {"text": ["NetMHCpan ROCs for", "Training B8 9-mers"]},
  "layer": [
   {"data": {"name": "roc"}, "transform": [{"filter": "datum.p == 'f'"}], "mark": {"type": "line", "strokeWidth": 2.8},
    "encoding": {
     "x": {"field": "x", "type": "quantitative", "title": "False Positive Rate", "scale": {"domain": [-0.05, 1.05], "nice": false, "zero": false}, "axis": {"values": [0, 0.2, 0.4, 0.6, 0.8, 1], "format": ".1f"}},
     "y": {"field": "y", "type": "quantitative", "title": "True Positive Rate", "scale": {"domain": [-0.05, 1.05], "nice": false, "zero": false}, "axis": {"values": [0, 0.2, 0.4, 0.6, 0.8, 1], "format": ".1f"}},
     "color": {"field": "s", "type": "nominal", "scale": {"domain": ["All peptides (0.99)", "Hydrophobic only (0.97)", "Hydrophilic only (0.99)", "Balanced only (0.99)"], "range": ["#008fd5", "#fc4f30", "#e5ae38", "#6d904f"]}, "legend": {"title": null}},
     "order": [{"field": "x", "type": "quantitative"}, {"field": "y", "type": "quantitative"}]}},
   {"data": {"name": "diag"}, "mark": {"type": "line", "color": "#111111", "strokeWidth": 2.6, "strokeDash": [10, 5]},
    "encoding": {"x": {"field": "x", "type": "quantitative", "title": "False Positive Rate"}, "y": {"field": "y", "type": "quantitative", "title": "True Positive Rate"}}}
  ]}
 ], "spacing": 130, "resolve": {"scale": {"color": "independent"}}}
]
}
